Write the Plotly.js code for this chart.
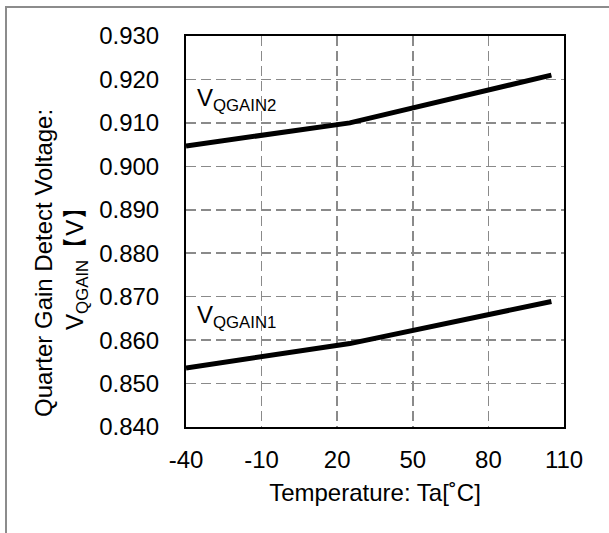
<!DOCTYPE html>
<html>
<head>
<meta charset="utf-8">
<script src="https://cdn.plot.ly/plotly-3.0.1.min.js"></script>
<style>
html,body{margin:0;padding:0;background:#fff;}
#frame{position:absolute;left:5px;top:6px;width:700px;height:600px;border-left:2px solid #8c8c8c;border-top:2px solid #8c8c8c;box-sizing:border-box;pointer-events:none;}
#chart{position:absolute;left:0;top:0;width:609px;height:533px;}
</style>
</head>
<body>
<div id="chart"></div>
<div id="frame"></div>
<script>
// Data
const temperature = [-40, 25, 105];
const vQgain1 = [0.8536, 0.8592, 0.8689];
const vQgain2 = [0.9047, 0.9100, 0.9210];
const xTicks = [-40, -10, 20, 50, 80, 110];
const yTicks = [0.84, 0.85, 0.86, 0.87, 0.88, 0.89, 0.90, 0.91, 0.92, 0.93];
const xTitle = 'Temperature: Ta[˚C]';
const yTitleLine1 = 'Quarter Gain Detect Voltage:';
const yTitleLine2 = 'V<sub>QGAIN</sub>【V】';
const label1 = 'V<sub>QGAIN1</sub>';
const label2 = 'V<sub>QGAIN2</sub>';

const FONT = 'Liberation Sans, Arial, sans-serif';
const FS = 24;

const traces = [
  {x: temperature, y: vQgain1, mode: 'lines', line: {color: '#000', width: 5}, name: 'VQGAIN1', hoverinfo: 'skip'},
  {x: temperature, y: vQgain2, mode: 'lines', line: {color: '#000', width: 5}, name: 'VQGAIN2', hoverinfo: 'skip'}
];

const layout = {
  width: 609, height: 533,
  margin: {l: 186, r: 45, t: 36, b: 106},
  paper_bgcolor: 'rgba(0,0,0,0)', plot_bgcolor: '#fff',
  showlegend: false,
  font: {family: FONT, size: FS, color: '#000'},
  xaxis: {
    range: [-40, 110], tickvals: xTicks, ticktext: xTicks.map(String),
    showgrid: true, gridcolor: '#8a8a8a', gridwidth: 1.5, griddash: '10px,5px',
    showline: true, linecolor: '#000', linewidth: 2, mirror: true,
    ticks: '', ticklabelstandoff: 10, zeroline: false,
    tickfont: {family: FONT, size: FS, color: '#000'},
    title: {text: xTitle, font: {family: FONT, size: FS, color: '#000'}, standoff: 12}
  },
  yaxis: {
    range: [0.84, 0.93], tickvals: yTicks, ticktext: yTicks.map(v => v.toFixed(3)),
    showgrid: true, gridcolor: '#8a8a8a', gridwidth: 1.5, griddash: '10px,5px',
    showline: true, linecolor: '#000', linewidth: 2, mirror: true,
    ticks: '', ticklabelstandoff: 20, zeroline: false,
    tickfont: {family: FONT, size: FS, color: '#000'}
  },
  annotations: [
    {text: label2, x: -36.5, y: 0.9153, xref: 'x', yref: 'y', xanchor: 'left', yanchor: 'middle', showarrow: false, font: {family: FONT, size: FS, color: '#000'}},
    {text: label1, x: -36.5, y: 0.8655, xref: 'x', yref: 'y', xanchor: 'left', yanchor: 'middle', showarrow: false, font: {family: FONT, size: FS, color: '#000'}},
    {text: yTitleLine1, x: -0.375, y: 0.42, xref: 'paper', yref: 'paper', xanchor: 'center', yanchor: 'middle', textangle: -90, showarrow: false, font: {family: FONT, size: FS, color: '#000'}},
    {text: yTitleLine2, x: -0.288, y: 0.42, xref: 'paper', yref: 'paper', xanchor: 'center', yanchor: 'middle', textangle: -90, showarrow: false, font: {family: FONT, size: FS, color: '#000'}}
  ]
};

Plotly.newPlot('chart', traces, layout, {staticPlot: true, displayModeBar: false});
</script>
</body>
</html>
